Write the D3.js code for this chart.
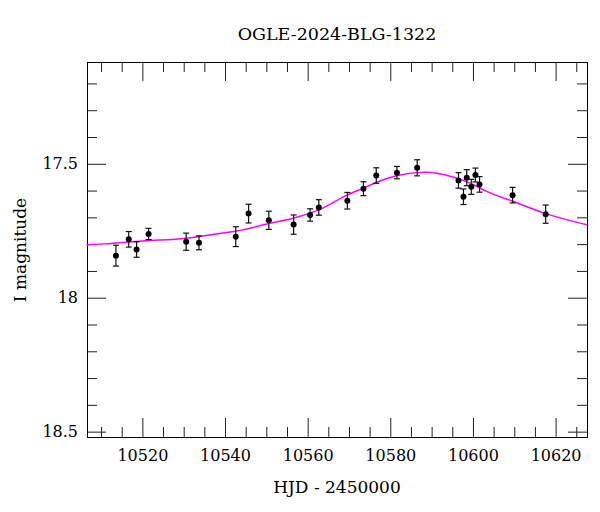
<!DOCTYPE html>
<html>
<head>
<meta charset="utf-8">
<script src="https://cdn.jsdelivr.net/npm/d3@7"></script>
<style>
  body { margin: 0; background: #fff; }
  text { font-family: 'DejaVu Serif', serif; fill: #000; }
</style>
</head>
<body>
<div class="chart"></div>
<script>
var margin = {top: 62, right: 13, bottom: 75, left: 87}
var width = 600 - margin.left - margin.right
var height = 512 - margin.top - margin.bottom

// observations: HJD - 2450000, I mag, error
var hjd = [10513.6, 10516.7, 10518.6, 10521.5, 10530.6, 10533.7, 10542.6, 10545.7, 10550.6,
  10556.6, 10560.6, 10562.7, 10569.6, 10573.5, 10576.6, 10581.6, 10586.5, 10596.5, 10597.7,
  10598.5, 10599.6, 10600.6, 10601.6, 10609.6, 10617.6]
var mag = [17.843, 17.782, 17.820, 17.762, 17.791, 17.795, 17.772, 17.686, 17.711,
  17.727, 17.691, 17.663, 17.638, 17.593, 17.544, 17.533, 17.515, 17.562, 17.623,
  17.552, 17.586, 17.542, 17.577, 17.617, 17.688]
var err = [0.039, 0.029, 0.029, 0.021, 0.032, 0.026, 0.037, 0.035, 0.034,
  0.036, 0.023, 0.029, 0.031, 0.026, 0.029, 0.023, 0.030, 0.029, 0.029,
  0.030, 0.028, 0.026, 0.029, 0.029, 0.034]

// model curve
var modelT = [10506.5, 10510.9, 10520.0, 10530.7, 10537.5, 10542.8, 10550.9, 10556.5, 10563.0,
  10569.4, 10573.5, 10576.7, 10581.5, 10588.4, 10595.3, 10599.3, 10603.3, 10609.8, 10617.8, 10627.6]
var modelM = [17.802, 17.799, 17.788, 17.778, 17.763, 17.751, 17.722, 17.703, 17.670,
  17.618, 17.591, 17.569, 17.545, 17.532, 17.550, 17.572, 17.603, 17.641, 17.687, 17.728]

var xMajor = [10520, 10540, 10560, 10580, 10600, 10620]
var yMajor = [17.5, 18, 18.5]
var yLabels = ['17.5', '18', '18.5']

var svg = d3.select('.chart')
  .append('svg')
  .attr('width', 600)
  .attr('height', 512)

var g = svg.append('g')
  .attr('transform', 'translate(' + margin.left + ',' + margin.top + ')')

var x = d3.scaleLinear().domain([10506.6, 10627.6]).range([0, width])
var y = d3.scaleLinear().domain([17.12, 18.52]).range([0, height])

var xMinor = d3.range(10510, 10627, 5).filter(function(d) { return d % 20 !== 0 })
var yMinor = d3.range(17.2, 18.51, 0.1).filter(function(d) { return Math.abs(d*2 - Math.round(d*2)) > 0.01 })

function addAxis(axis, vals, size, transform, fmt) {
  var a = g.append('g')
    .attr('transform', transform)
    .call(axis.tickValues(vals).tickSize(size).tickFormat(fmt))
  a.select('.domain').remove()
  a.selectAll('line').attr('stroke', '#222')
  return a
}

var none = function() { return '' }
var bx = addAxis(d3.axisBottom(x), xMajor, -19, 'translate(0,' + height + ')', d3.format('d'))
bx.selectAll('text').attr('y', 13).style('font-size', '16px')
addAxis(d3.axisBottom(x), xMinor, -10, 'translate(0,' + height + ')', none)
addAxis(d3.axisTop(x), xMajor, -19, 'translate(0,0)', none)
addAxis(d3.axisTop(x), xMinor, -10, 'translate(0,0)', none)

var ly = addAxis(d3.axisLeft(y), yMajor, -19, 'translate(0,0)', function(d, i) { return yLabels[i] })
ly.selectAll('text').attr('x', -9).style('font-size', '16px')
addAxis(d3.axisLeft(y), yMinor, -10, 'translate(0,0)', none)
addAxis(d3.axisRight(y), yMajor, -19, 'translate(' + width + ',0)', none)
addAxis(d3.axisRight(y), yMinor, -10, 'translate(' + width + ',0)', none)

g.append('rect')
  .attr('x', 0.5).attr('y', 0.5)
  .attr('width', width).attr('height', height)
  .attr('fill', 'none')
  .attr('stroke', 'black')
  .attr('stroke-width', 1)

var line = d3.line()
  .x(function(d) { return x(d[0]) })
  .y(function(d) { return y(d[1]) })
  .curve(d3.curveMonotoneX)

g.append('path')
  .datum(d3.zip(modelT, modelM))
  .attr('d', line)
  .attr('fill', 'none')
  .attr('stroke', '#ff00ff')
  .attr('stroke-width', 1.5)

var pts = d3.range(hjd.length).map(function(i) { return {t: hjd[i], m: mag[i], e: err[i]} })

var eb = g.selectAll('.eb')
  .data(pts)
  .enter().append('g')
  .attr('class', 'eb')
  .attr('stroke', '#111')
  .attr('stroke-width', 1.2)

eb.append('line')
  .attr('x1', function(d) { return x(d.t) })
  .attr('x2', function(d) { return x(d.t) })
  .attr('y1', function(d) { return y(d.m - d.e) })
  .attr('y2', function(d) { return y(d.m + d.e) })
eb.append('line')
  .attr('x1', function(d) { return x(d.t) - 3 })
  .attr('x2', function(d) { return x(d.t) + 3 })
  .attr('y1', function(d) { return y(d.m - d.e) })
  .attr('y2', function(d) { return y(d.m - d.e) })
eb.append('line')
  .attr('x1', function(d) { return x(d.t) - 3 })
  .attr('x2', function(d) { return x(d.t) + 3 })
  .attr('y1', function(d) { return y(d.m + d.e) })
  .attr('y2', function(d) { return y(d.m + d.e) })

g.selectAll('circle')
  .data(pts)
  .enter().append('circle')
  .attr('r', 3)
  .attr('cx', function(d) { return x(d.t) })
  .attr('cy', function(d) { return y(d.m) })
  .attr('fill', 'black')

svg.append('text')
  .attr('x', margin.left + width/2)
  .attr('y', 40)
  .attr('text-anchor', 'middle')
  .style('font-size', '17.5px')
  .text('OGLE-2024-BLG-1322')

svg.append('text')
  .attr('x', margin.left + width/2)
  .attr('y', 493)
  .attr('text-anchor', 'middle')
  .style('font-size', '17px')
  .text('HJD - 2450000')

svg.append('text')
  .attr('transform', 'translate(26,' + (margin.top + 188) + ') rotate(-90)')
  .attr('text-anchor', 'middle')
  .style('font-size', '17px')
  .text('I magnitude')
</script>
</body>
</html>
